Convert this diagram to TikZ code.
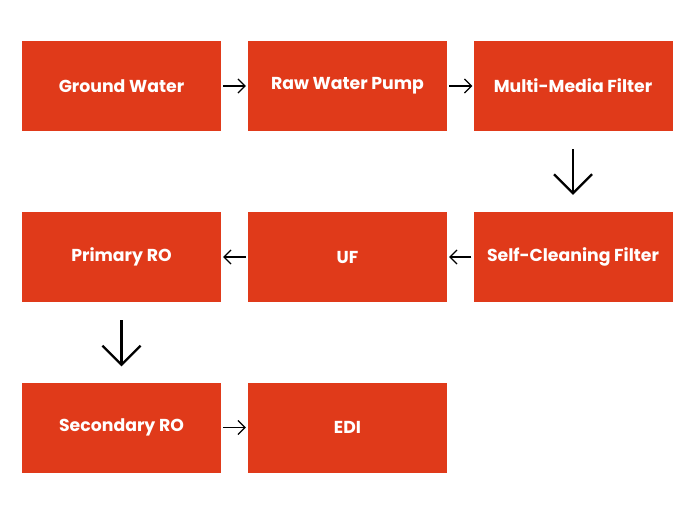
\documentclass[tikz,border=0pt]{standalone}
\usepackage{fontspec}
\setmainfont{Poppins}
\usetikzlibrary{arrows.meta}
\definecolor{boxred}{HTML}{E03A1A}
\begin{document}
\begin{tikzpicture}[x=1pt,y=-1pt,
  stepbox/.style={fill=boxred,draw=none,minimum width=199pt,minimum height=90pt,inner sep=0pt,text=white,font=\fontsize{17.3}{20}\selectfont\bfseries},
  harrow/.style={-{Straight Barb[length=7pt,width=14pt]},line width=1.2pt},
  varrow/.style={-{Straight Barb[length=19pt,width=38pt]},line width=2.2pt}]
\useasboundingbox (0,0) rectangle (695,513);
\node[stepbox] (gw) at (121.5,86) {Ground Water};
\node[stepbox] (rwp) at (347.5,86) {Raw Water Pump};
\node[stepbox] (mmf) at (573,86) {Multi-Media Filter};
\node[stepbox] (scf) at (573,257) {Self-Cleaning Filter};
\node[stepbox] (uf) at (347.5,257) {UF};
\node[stepbox] (pro) at (121.5,257) {Primary RO};
\node[stepbox] (sro) at (121.5,427.5) {Secondary RO};
\node[stepbox] (edi) at (347.5,427.5) {EDI};
\draw[harrow] ([xshift=2pt]gw.east) -- ([xshift=-2pt]rwp.west);
\draw[harrow] ([xshift=2pt]rwp.east) -- ([xshift=-1pt]mmf.west);
\draw[varrow] ([yshift=-18pt]mmf.south) -- ([yshift=17pt]scf.north);
\draw[harrow] ([xshift=-2pt]scf.west) -- ([xshift=2pt]uf.east);
\draw[harrow] ([xshift=-2pt]uf.west) -- ([xshift=2pt]pro.east);
\draw[varrow] ([yshift=-18pt]pro.south) -- ([yshift=16pt]sro.north);
\draw[harrow] ([xshift=2pt]sro.east) -- ([xshift=-2pt]edi.west);
\end{tikzpicture}
\end{document}
